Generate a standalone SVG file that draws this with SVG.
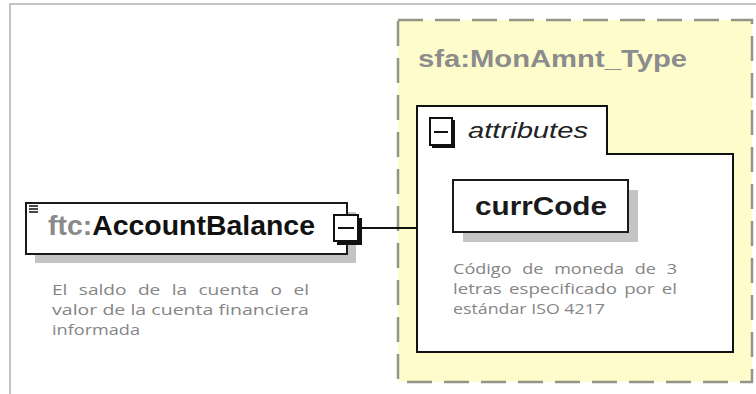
<svg xmlns="http://www.w3.org/2000/svg" width="756" height="394" viewBox="0 0 756 394">
<style>
.frame{fill:none;stroke:#b0b0b0;stroke-width:1.5}
.shadow{fill:#c4c4c4}
.box{fill:#fff;stroke:#1a1a1a;stroke-width:2}
.ctrl{fill:#fff;stroke:#111;stroke-width:2}
.minus{stroke:#111;stroke-width:2}
.desc{font-family:"Open Sans","Liberation Sans",sans-serif;font-size:15px;fill:#858585}
.bold{font-family:"Liberation Sans",Arial,sans-serif;font-weight:bold}
</style>
<rect width="756" height="394" fill="#fff"/>
<path class="frame" d="M10,394 V4 H756"/>

<g id="type-sfa-MonAmnt_Type">
  <rect x="398" y="20" width="354" height="362" fill="#fffccc" stroke="#949488" stroke-width="2.5" stroke-dasharray="25 12"/>
  <text class="bold" x="418" y="67" font-size="23" fill="#8c8c8c" textLength="269" lengthAdjust="spacingAndGlyphs">sfa:MonAmnt_Type</text>
</g>

<g id="attributes">
  <path d="M417,106 H607 V154 H733 V352 H417 Z" fill="#fff" stroke="#111" stroke-width="2"/>
  <rect x="432" y="120" width="23" height="28" fill="#111"/>
  <rect class="ctrl" x="430" y="118" width="22" height="27"/>
  <line class="minus" x1="434" y1="132" x2="448" y2="132"/>
  <text x="468" y="138" font-family="Liberation Sans,Arial,sans-serif" font-style="italic" font-size="22" fill="#222" textLength="120" lengthAdjust="spacingAndGlyphs">attributes</text>
</g>

<g id="node-currCode">
  <rect class="shadow" x="463" y="190" width="175" height="52"/>
  <rect class="box" x="453" y="180" width="175" height="52"/>
  <text class="bold" x="475" y="215" font-size="25" fill="#1a1a1a" textLength="132" lengthAdjust="spacingAndGlyphs">currCode</text>
  <text class="desc" y="274">
    <tspan x="453" textLength="224" lengthAdjust="spacingAndGlyphs" word-spacing="5">Código de moneda de 3</tspan>
    <tspan x="453" y="294" textLength="224" lengthAdjust="spacingAndGlyphs" word-spacing="2">letras especificado por el</tspan>
    <tspan x="453" y="314" textLength="152" lengthAdjust="spacingAndGlyphs">estándar ISO 4217</tspan>
  </text>
</g>

<g id="node-ftc-AccountBalance">
  <rect class="shadow" x="35" y="212" width="321" height="51"/>
  <rect class="box" x="26" y="203" width="321" height="51"/>
  <g stroke="#333" stroke-width="1.8">
    <line x1="29" y1="206" x2="38" y2="206"/>
    <line x1="29" y1="209" x2="38" y2="209"/>
    <line x1="29" y1="212" x2="38" y2="212"/>
  </g>
  <text class="bold" x="48" y="235" font-size="27" textLength="267" lengthAdjust="spacingAndGlyphs"><tspan fill="#8a8a8a">ftc:</tspan><tspan fill="#111">AccountBalance</tspan></text>
  <rect x="337" y="218" width="25" height="27" fill="#111"/>
  <rect class="ctrl" x="334" y="215" width="24" height="26"/>
  <line class="minus" x1="338" y1="228" x2="354" y2="228"/>
  <text class="desc" y="295">
    <tspan x="52" textLength="257" lengthAdjust="spacingAndGlyphs" word-spacing="5">El saldo de la cuenta o el</tspan>
    <tspan x="52" y="315" textLength="257" lengthAdjust="spacingAndGlyphs">valor de la cuenta financiera</tspan>
    <tspan x="52" y="335" textLength="88" lengthAdjust="spacingAndGlyphs">informada</tspan>
  </text>
</g>

<g id="connectors">
  <line x1="360" y1="228" x2="417" y2="228" stroke="#111" stroke-width="2"/>
</g>
</svg>
